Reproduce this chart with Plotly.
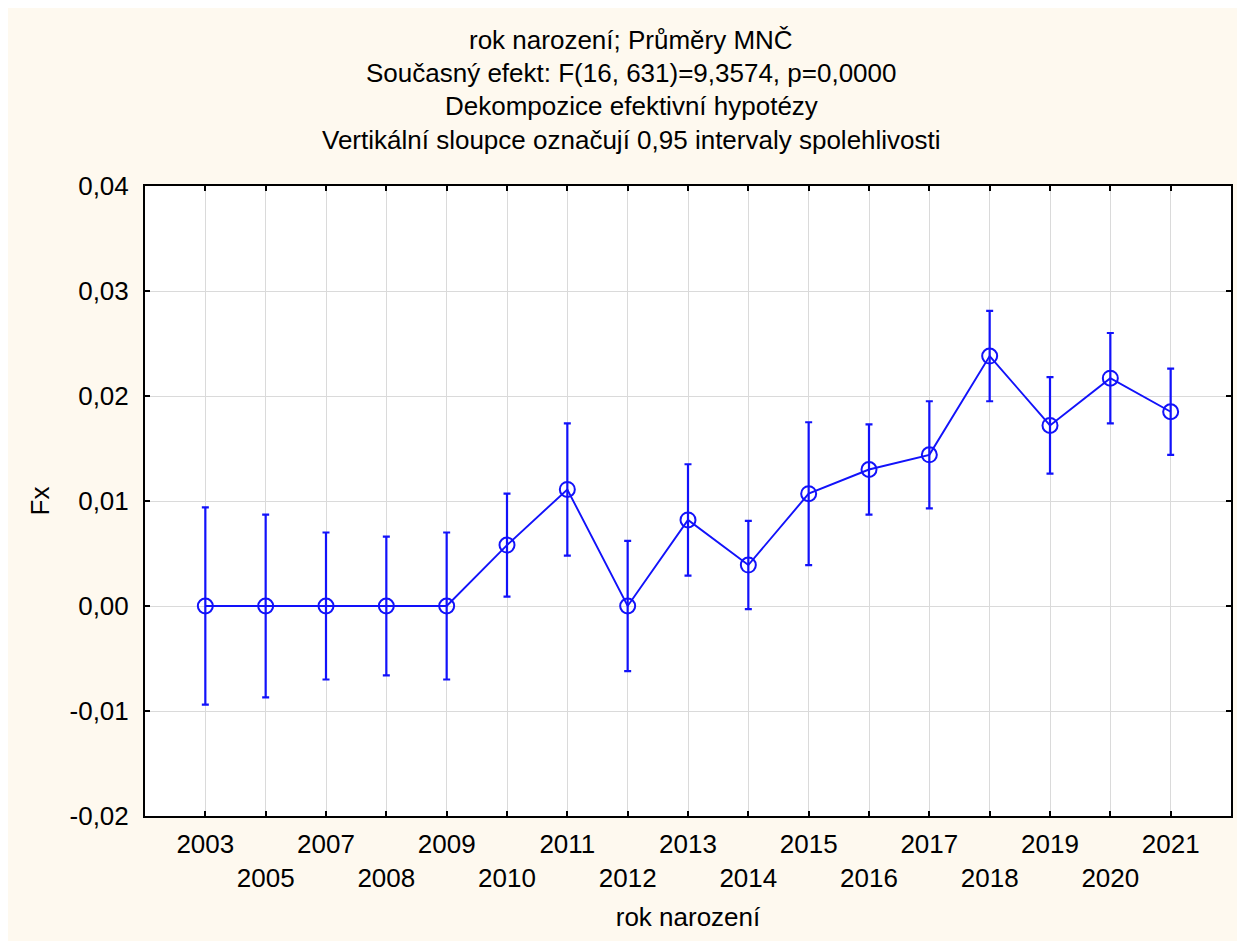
import plotly.graph_objects as go

years = ["2003", "2005", "2007", "2008", "2009", "2010", "2011", "2012", "2013",
         "2014", "2015", "2016", "2017", "2018", "2019", "2020", "2021"]
means = [0.0, 0.0, 0.0, 0.0, 0.0, 0.0058, 0.0111, 0.0, 0.0082,
         0.0039, 0.0107, 0.0130, 0.0144, 0.0238, 0.0172, 0.0217, 0.0185]
ci_half = [0.0094, 0.0087, 0.0070, 0.0066, 0.0070, 0.0049, 0.0063, 0.0062, 0.0053,
           0.0042, 0.0068, 0.0043, 0.0051, 0.0043, 0.0046, 0.0043, 0.0041]

y_tickvals = [-0.02, -0.01, 0.0, 0.01, 0.02, 0.03, 0.04]
y_ticktext = ["-0,02", "-0,01", "0,00", "0,01", "0,02", "0,03", "0,04"]
x_ticktext = [y if i % 2 == 0 else "<br>" + y for i, y in enumerate(years)]

title_lines = [
    "rok narození; Průměry MNČ",
    "Současný efekt: F(16, 631)=9,3574, p=0,0000",
    "Dekompozice efektivní hypotézy",
    "Vertikální sloupce označují 0,95 intervaly spolehlivosti",
]

BLUE = "#1212FA"
FONT = "Liberation Sans, Arial, sans-serif"
W, H = 1237, 933
ML, MR, MT, MB = 137, 12, 178, 125
PW, PH = W - ML - MR, H - MT - MB
FS = 26

# title line centres, in figure pixels
title_cx = 624
title_centres = [32, 65, 98, 132]
annotations = [
    dict(text=t, xref="paper", yref="paper", x=(title_cx - ML) / PW, xanchor="center",
         y=1 + (MT - c) / PH, yanchor="middle", showarrow=False,
         font=dict(family=FONT, size=FS, color="black"))
    for t, c in zip(title_lines, title_centres)
]

fig = go.Figure()
fig.add_trace(go.Scatter(
    x=years, y=means, mode="lines+markers",
    line=dict(color=BLUE, width=1.9),
    marker=dict(symbol="circle-open", size=15, color=BLUE, line=dict(width=2, color=BLUE)),
    error_y=dict(type="data", array=ci_half, visible=True, color=BLUE, thickness=2.2, width=3.5),
    showlegend=False,
))

fig.update_layout(
    width=W, height=H,
    margin=dict(l=ML, r=MR, t=MT, b=MB),
    paper_bgcolor="#FEF9EF",
    plot_bgcolor="white",
    font=dict(family=FONT, size=FS, color="black"),
    annotations=annotations,
    xaxis=dict(
        type="category", range=[-1, len(years)],
        tickmode="array", tickvals=years, ticktext=x_ticktext,
        showgrid=True, gridcolor="#DADADA", gridwidth=1,
        showline=True, linecolor="black", linewidth=2, mirror="ticks",
        ticks="inside", ticklen=5, tickcolor="black", tickwidth=1.5,
        tickfont=dict(size=FS), zeroline=False, ticklabelstandoff=4,
        title=dict(text="rok narození", font=dict(size=FS), standoff=16),
    ),
    yaxis=dict(
        range=[-0.02, 0.04],
        tickmode="array", tickvals=y_tickvals, ticktext=y_ticktext,
        showgrid=True, gridcolor="#DADADA", gridwidth=1,
        showline=True, linecolor="black", linewidth=2, mirror="ticks",
        ticks="inside", ticklen=5, tickcolor="black", tickwidth=1.5,
        tickfont=dict(size=FS), zeroline=False, ticklabelstandoff=9,
        title=dict(text="Fx", font=dict(size=FS), standoff=12),
    ),
)

fig.write_html("out.html")
